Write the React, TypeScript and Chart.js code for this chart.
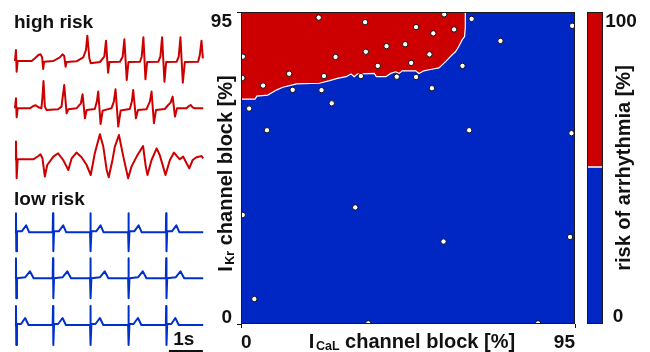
import React, { useEffect, useRef } from 'react';
import { Chart, registerables } from 'chart.js';

Chart.register(...registerables);

const FONT = "'Liberation Sans', Arial, Helvetica, sans-serif";
const RED = '#CC0000';
const BLUE = '#0026C4';
const TRACE_RED = '#CC0000';
const TRACE_BLUE = '#0030CC';
const INK = '#111111';

// ---------- ECG examples: [time (s), amplitude] ----------
const highRisk1 = [[0,0],[0.03,11],[0.05,-10.7],[0.08,0],[0.49,0],[0.59,2.7],[0.69,6],[0.75,6.7],[0.8,3.7],[0.83,-8],[0.86,-0.7],[1.13,0],[1.32,3.7],[1.4,6.7],[1.45,5],[1.49,-5.7],[1.52,-1],[1.81,-0.3],[2.01,3.7],[2.09,11],[2.13,25.3],[2.19,2.7],[2.23,-2.3],[2.5,-1],[2.63,4.3],[2.68,20.3],[2.74,-11.7],[2.78,-1],[3.09,-0.7],[3.17,4.3],[3.22,21.7],[3.29,-19],[3.34,-1],[3.68,-0.7],[3.73,4.3],[3.78,23.7],[3.84,-18.3],[3.89,-1],[4.22,-0.7],[4.28,4.3],[4.33,23.7],[4.4,-20.7],[4.45,-1],[4.76,-0.7],[4.82,4.3],[4.87,23.7],[4.94,-21.7],[5.0,-1],[5.39,-0.7],[5.44,6],[5.49,20.3],[5.53,2.7]];
const highRisk2 = [[0,0],[0.03,10],[0.05,-9],[0.08,0],[0.44,0],[0.54,2.3],[0.61,3],[0.69,1],[0.78,0],[0.81,11.7],[0.84,27.3],[0.88,1.7],[0.93,-1.7],[1.27,-1],[1.37,1.7],[1.45,23.3],[1.52,-5],[1.57,-1],[1.81,0],[1.94,5],[1.99,14],[2.06,-10],[2.11,-1.7],[2.35,-0.7],[2.41,6.7],[2.45,16.7],[2.52,-15.7],[2.58,-2.3],[2.84,0],[2.91,6.7],[2.96,19],[3.04,-18.3],[3.11,-2.3],[3.38,-0.7],[3.44,6.7],[3.48,18.3],[3.56,-10],[3.62,-1.7],[3.87,-1],[3.97,6.7],[4.02,16.7],[4.09,-15],[4.15,-1.7],[4.41,-0.7],[4.51,3.3],[4.58,5.7],[4.64,11.7],[4.71,-8.3],[4.77,0],[5.05,0],[5.12,2.3],[5.17,3.3],[5.23,1],[5.29,0],[5.54,0]];
const highRisk3 = [[0,0],[0.02,0],[0.03,17.7],[0.05,-19],[0.08,0],[0.54,0],[0.69,3.3],[0.75,5],[0.81,1],[0.88,-17.3],[0.95,-5.7],[1.13,2.7],[1.27,6],[1.42,-0.7],[1.52,-7.3],[1.57,-10.7],[1.67,1],[1.81,6.7],[1.96,2],[2.11,-5.7],[2.23,-15.7],[2.35,6],[2.5,25],[2.6,12.7],[2.7,-10.7],[2.76,-18],[2.87,-0.7],[2.94,12.7],[3.06,24.3],[3.19,2.7],[3.33,-19],[3.43,-7.3],[3.58,2.7],[3.77,13.3],[3.85,-7.3],[3.9,-15.7],[4.02,-0.7],[4.17,11],[4.26,4.3],[4.36,-7.3],[4.43,-15.7],[4.56,-0.7],[4.68,6.7],[4.85,0],[4.95,2.7],[5.05,-4],[5.13,-9],[5.23,-0.7],[5.34,2],[5.44,2.7],[5.49,3.3],[5.54,1]];
const lowRisk1 = [[0,0],[0.02,0],[0.03,19],[0.04,-19],[0.06,1],[0.2,1],[0.33,7],[0.42,0],[1.11,0],[1.12,19],[1.13,-19],[1.15,1],[1.29,1],[1.42,7],[1.51,0],[2.21,0],[2.22,19],[2.23,-19],[2.25,1],[2.39,1],[2.52,7],[2.61,0],[3.33,0],[3.34,19],[3.35,-19],[3.37,1],[3.51,1],[3.64,7],[3.73,0],[4.44,0],[4.45,19],[4.46,-19],[4.48,1],[4.62,1],[4.75,7],[4.84,0],[5.54,0]];
const lowRisk2 = [[0,0],[0.02,0],[0.03,20],[0.04,-20],[0.06,0],[0.3,1],[0.44,7],[0.55,0],[1.11,0],[1.12,20],[1.13,-20],[1.15,0],[1.4,1],[1.54,7],[1.65,0],[2.21,0],[2.22,20],[2.23,-20],[2.25,0],[2.5,1],[2.64,7],[2.75,0],[3.33,0],[3.34,20],[3.35,-20],[3.37,0],[3.62,1],[3.76,7],[3.87,0],[4.44,0],[4.45,20],[4.46,-20],[4.48,0],[4.73,1],[4.87,7],[4.98,0],[5.54,0]];
const lowRisk3 = [[0,0],[0.02,0],[0.03,19],[0.04,-20],[0.06,1],[0.18,1],[0.3,7],[0.4,0],[1.11,0],[1.12,19],[1.13,-20],[1.15,1],[1.27,1],[1.4,7],[1.5,0],[2.21,0],[2.22,19],[2.23,-20],[2.25,1],[2.37,1],[2.5,7],[2.6,0],[3.33,0],[3.34,19],[3.35,-20],[3.37,1],[3.49,1],[3.62,7],[3.72,0],[4.44,0],[4.45,19],[4.46,-20],[4.48,1],[4.6,1],[4.72,7],[4.82,0],[5.54,0]];
const scaleBarSeconds = [4.53, 5.53];
const scaleBarLabel = '1s';
const groupLabels = ['high risk', 'low risk'];

// ---------- risk map (I_CaL block %, I_Kr block %) ----------
const boundaryBlockCaL = [0, 4.0, 4.5, 7.6, 10.2, 11.9, 15.8, 22.3, 25.2, 27.4, 29.9, 31.3, 32.2, 33.1, 37.9, 38.5, 41.2, 42.6, 44.0, 45.0, 45.9, 49.7, 50.6, 52.0, 53.9, 56.3, 58.2, 60.0, 61.0, 61.9, 62.9, 63.6, 63.8, 63.8];
const boundaryBlockKr = [68.5, 68.5, 69.4, 69.7, 71.3, 72.1, 73.1, 73.3, 74.1, 74.8, 75.3, 76.1, 75.3, 76.1, 76.3, 75.3, 75.3, 76.3, 76.8, 76.3, 77.1, 77.1, 76.3, 77.1, 77.5, 78.0, 79.9, 81.9, 82.9, 84.4, 86.5, 87.5, 90.5, 95];
const sampleBlockCaL = [22.1, 35.3, 57.8, 49.8, 60.6, 54.7, 41.4, 46.7, 35.5, 0.5, 26.9, 53.6, 48.4, 38.9, 13.7, 23.6, 0.4, 34.1, 44.3, 49.8, 6.3, 14.7, 22.9, 54.3, 25.8, 2.3, 65.6, 94.2, 73.8, 63.0, 7.4, 64.9, 94.0, 32.5, 0.5, 57.6, 93.6, 3.8, 36.2, 84.5];
const sampleBlockKr = [93.3, 91.9, 94.3, 90.4, 89.7, 88.5, 84.6, 85.2, 82.9, 81.4, 81.3, 82.1, 79.5, 78.6, 76.2, 75.5, 74.9, 75.5, 75.3, 75.2, 72.6, 71.3, 71.2, 71.8, 67.2, 65.6, 92.9, 90.8, 86.2, 78.6, 59.0, 59.0, 58.1, 35.5, 33.2, 25.1, 26.5, 7.6, 0.2, 0.2];
const blockTicks = [0, 95];
const xTitle = ['I', 'CaL', ' channel block [%]'];
const yTitle = ['I', 'Kr', ' channel block [%]'];

// ---------- colour bar ----------
const riskLow = [50];
const riskHigh = [50];
const riskTicks = [0, 100];
const riskTitle = 'risk of arrhythmia [%]';

// ---------- layout constants ----------
const TRACE_BASE = [61, 108.3, 159.3, 232.3, 278.3, 325];
const SCALE_BAR_Y = 351;

function drawSubscripted(ctx: CanvasRenderingContext2D, parts: string[], x: number, y: number, rot: number) {
  const [a, sub, rest] = parts;
  const big = `bold 20px ${FONT}`;
  const small = `bold 12.5px ${FONT}`;
  ctx.font = big;
  const wa = ctx.measureText(a).width;
  const wr = ctx.measureText(rest).width;
  ctx.font = small;
  const ws = ctx.measureText(sub).width;
  const gap = 1.5;
  const total = wa + gap + ws + wr;
  ctx.save();
  ctx.translate(x, y);
  ctx.rotate(rot);
  ctx.textAlign = 'left';
  ctx.textBaseline = 'alphabetic';
  ctx.fillStyle = INK;
  let cx = -total / 2;
  ctx.font = big; ctx.fillText(a, cx, 0); cx += wa + gap;
  ctx.font = small; ctx.fillText(sub, cx, 1.5); cx += ws;
  ctx.font = big; ctx.fillText(rest, cx, 0);
  ctx.restore();
}

const ecgText = {
  id: 'ecgText',
  afterDraw(chart: any) {
    const { ctx, scales } = chart;
    ctx.save();
    ctx.fillStyle = INK;
    ctx.font = `bold 19px ${FONT}`;
    ctx.textAlign = 'left';
    ctx.textBaseline = 'alphabetic';
    ctx.fillText(groupLabels[0], 14, 28);
    ctx.fillText(groupLabels[1], 14, 205);
    ctx.textAlign = 'center';
    const mid = scales.x.getPixelForValue((scaleBarSeconds[0] + scaleBarSeconds[1]) / 2);
    ctx.fillText(scaleBarLabel, mid - 2, 345);
    ctx.restore();
  },
};

const mainText = {
  id: 'mainText',
  afterDraw(chart: any) {
    const { ctx, chartArea: a, scales } = chart;
    const y = scales.y;
    ctx.save();
    ctx.strokeStyle = '#1a1a1a';
    ctx.lineWidth = 1;
    ctx.strokeRect(a.left + 0.5, a.top + 0.5, a.right - a.left - 1, a.bottom - a.top - 1);
    ctx.fillStyle = INK;
    ctx.font = `bold 19px ${FONT}`;
    ctx.textAlign = 'right';
    ctx.textBaseline = 'alphabetic';
    ctx.fillText(String(blockTicks[1]), a.left - 9, y.getPixelForValue(blockTicks[1]) + 15);
    ctx.fillText(String(blockTicks[0]), a.left - 9, y.getPixelForValue(blockTicks[0]) - 1);
    drawSubscripted(ctx, yTitle, a.left - 9, (a.top + a.bottom) / 2 + 5.5, -Math.PI / 2);
    drawSubscripted(ctx, xTitle, (a.left + a.right) / 2 + 4, 348, 0);
    ctx.restore();
  },
};

const barText = {
  id: 'barText',
  afterDraw(chart: any) {
    const { ctx, chartArea: a, scales } = chart;
    const y = scales.y;
    ctx.save();
    ctx.strokeStyle = '#1a1a1a';
    ctx.lineWidth = 1;
    ctx.strokeRect(a.left + 0.5, a.top + 0.5, a.right - a.left - 1, a.bottom - a.top - 1);
    ctx.fillStyle = INK;
    ctx.font = `bold 19px ${FONT}`;
    ctx.textAlign = 'center';
    ctx.textBaseline = 'alphabetic';
    ctx.fillText(String(riskTicks[1]), a.right + 18, y.getPixelForValue(riskTicks[1]) + 15);
    ctx.fillText(String(riskTicks[0]), a.right + 15, y.getPixelForValue(riskTicks[0]) - 2);
    ctx.translate(a.right + 27, (a.top + a.bottom) / 2);
    ctx.rotate(-Math.PI / 2);
    ctx.font = `bold 20px ${FONT}`;
    ctx.fillText(riskTitle, 0, 0);
    ctx.restore();
  },
};

export default function App() {
  const ecgRef = useRef<HTMLCanvasElement>(null);
  const mainRef = useRef<HTMLCanvasElement>(null);
  const barRef = useRef<HTMLCanvasElement>(null);

  useEffect(() => {
    const traces = [highRisk1, highRisk2, highRisk3, lowRisk1, lowRisk2, lowRisk3];
    const colors = [TRACE_RED, TRACE_RED, TRACE_RED, TRACE_BLUE, TRACE_BLUE, TRACE_BLUE];
    const ecgSets: any[] = traces.map((tr, i) => ({
      data: tr.map(([t, v]) => ({ x: t, y: v - TRACE_BASE[i] })),
      borderColor: colors[i],
      borderWidth: 2,
      borderJoinStyle: 'round',
      pointRadius: 0,
      tension: 0,
      fill: false,
    }));
    ecgSets.push({
      data: scaleBarSeconds.map((t) => ({ x: t, y: -SCALE_BAR_Y })),
      borderColor: INK,
      borderWidth: 2,
      pointRadius: 0,
      fill: false,
    });
    const ecg = new Chart(ecgRef.current!, {
      type: 'line',
      data: { datasets: ecgSets },
      options: {
        responsive: false,
        animation: false,
        events: [],
        layout: { padding: 0 },
        plugins: { legend: { display: false }, tooltip: { enabled: false } },
        scales: {
          x: { type: 'linear', display: false, min: -0.44, max: 5.74 },
          y: { type: 'linear', display: false, min: -352, max: 0 },
        },
      },
      plugins: [ecgText],
    } as any);

    const boundary = boundaryBlockCaL.map((x, i) => ({ x, y: boundaryBlockKr[i] }));
    const main = new Chart(mainRef.current!, {
      type: 'line',
      data: {
        datasets: [
          {
            data: sampleBlockCaL.map((x, i) => ({ x, y: sampleBlockKr[i] })),
            showLine: false,
            pointRadius: 2.7,
            pointBorderWidth: 1,
            pointBackgroundColor: '#ffffff',
            pointBorderColor: INK,
            clip: 0,
            order: 0,
          },
          {
            data: boundary,
            borderColor: '#ffffff',
            borderWidth: 1.2,
            pointRadius: 0,
            tension: 0,
            fill: 'end',
            backgroundColor: RED,
            clip: 0,
            order: 1,
          },
          {
            data: [...boundary, { x: 95, y: 95 }],
            borderWidth: 0,
            borderColor: BLUE,
            pointRadius: 0,
            tension: 0,
            fill: 'start',
            backgroundColor: BLUE,
            clip: 0,
            order: 2,
          },
        ],
      },
      options: {
        responsive: false,
        animation: false,
        events: [],
        layout: { padding: { top: 12, right: 3, left: 0, bottom: 0 } },
        plugins: { legend: { display: false }, tooltip: { enabled: false } },
        scales: {
          x: {
            type: 'linear', min: 0, max: 95,
            afterBuildTicks: (s: any) => { s.ticks = blockTicks.map((v) => ({ value: v })); },
            afterFit: (s: any) => { s.height = 28; },
            grid: { drawOnChartArea: false, tickLength: 4, color: INK },
            border: { display: false },
            ticks: { align: 'inner', padding: 3, color: INK, maxRotation: 0, autoSkip: false, font: { family: FONT, size: 19, weight: 'bold' } },
          },
          y: {
            type: 'linear', min: 0, max: 95,
            afterBuildTicks: (s: any) => { s.ticks = blockTicks.map((v) => ({ value: v })); },
            afterFit: (s: any) => { s.width = 36; },
            grid: { drawOnChartArea: false, tickLength: 4, color: INK },
            border: { display: false },
            ticks: { display: false },
          },
        },
      },
      plugins: [mainText],
    } as any);

    const bar = new Chart(barRef.current!, {
      type: 'bar',
      data: {
        labels: [''],
        datasets: [
          { data: riskLow, backgroundColor: BLUE, borderWidth: 0 },
          { data: riskHigh, backgroundColor: RED, borderColor: '#ffffff', borderWidth: { top: 0, left: 0, right: 0, bottom: 2 }, borderSkipped: false },
        ],
      },
      options: {
        responsive: false,
        animation: false,
        events: [],
        layout: { padding: { left: 7, right: 47, top: 12, bottom: 28 } },
        plugins: { legend: { display: false }, tooltip: { enabled: false } },
        datasets: { bar: { barPercentage: 1, categoryPercentage: 1 } },
        scales: {
          x: { display: false, stacked: true },
          y: { display: false, stacked: true, min: 0, max: 100 },
        },
      },
      plugins: [barText],
    } as any);

    return () => { ecg.destroy(); main.destroy(); bar.destroy(); };
  }, []);

  return (
    <div style={{ position: 'absolute', left: 0, top: 0, width: 650, height: 352, background: '#ffffff', overflow: 'hidden' }}>
      <canvas ref={ecgRef} width={210} height={352} style={{ position: 'absolute', left: 0, top: 0 }} />
      <canvas ref={mainRef} width={375} height={352} style={{ position: 'absolute', left: 205, top: 0 }} />
      <canvas ref={barRef} width={70} height={352} style={{ position: 'absolute', left: 580, top: 0 }} />
    </div>
  );
}
